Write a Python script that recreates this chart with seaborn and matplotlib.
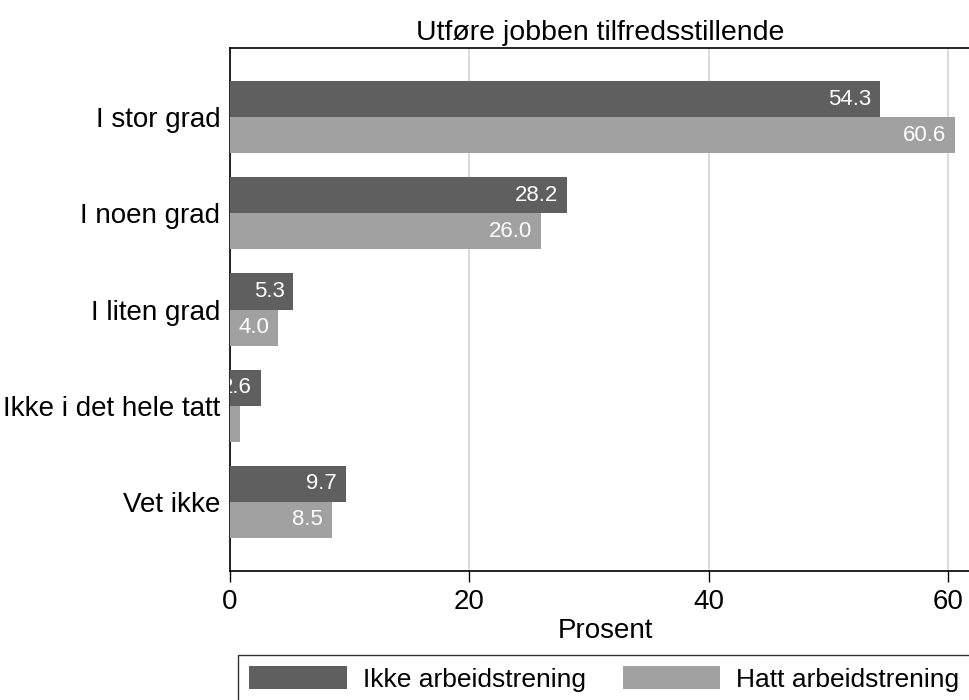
import pandas as pd
import numpy as np
import matplotlib.pyplot as plt
import seaborn as sns
from matplotlib.patches import Patch

# Data
categories = ["I stor grad", "I noen grad", "I liten grad", "Ikke i det hele tatt", "Vet ikke"]
groups = ["Ikke arbeidstrening", "Hatt arbeidstrening"]
ikke_vals = [54.3, 28.2, 5.3, 2.6, 9.7]
hatt_vals = [60.6, 26.0, 4.0, 0.8, 8.5]
colors = ["#5f5f5f", "#a1a1a1"]

df = pd.DataFrame({
    "kategori": categories * 2,
    "gruppe": [groups[0]] * 5 + [groups[1]] * 5,
    "prosent": ikke_vals + hatt_vals,
})

sns.set_style("white")
plt.rcParams["font.family"] = ["Liberation Sans", "DejaVu Sans"]
plt.rcParams["text.color"] = "black"
plt.rcParams["axes.labelcolor"] = "black"
plt.rcParams["xtick.color"] = "black"
plt.rcParams["ytick.color"] = "black"

fig = plt.figure(figsize=(9.69, 7), dpi=100)
# axes: x=0 at 230px, 60 at 948px, extends past right edge
ax = fig.add_axes([230 / 969, 1 - 571 / 700, 750 / 969, (571 - 48) / 700])

sns.barplot(data=df, y="kategori", x="prosent", hue="gruppe", order=categories,
            hue_order=groups, palette=colors, width=0.75, saturation=1,
            orient="h", ax=ax, legend=False, zorder=3)

for p in ax.patches:
    p.set_edgecolor("none")

# Value labels inside bar ends (clipped at the axis like the original)
for cont in ax.containers:
    for bar in cont:
        w = bar.get_width()
        ax.text(w - 0.75, bar.get_y() + bar.get_height() / 2, f"{w:.1f}",
                ha="right", va="center", color="white", fontsize=16,
                clip_on=True, zorder=4)

ax.set_xlim(0, 750 / 11.967)
ax.set_ylim(4.72, -0.72)
ax.set_xticks([0, 20, 40, 60])
ax.xaxis.grid(True, color="#dcdcdc", linewidth=1.5, zorder=0)
ax.yaxis.grid(False)
ax.tick_params(axis="x", direction="out", length=8, width=1, color="black",
               labelsize=20, pad=5, bottom=True)
ax.tick_params(axis="y", length=0, labelsize=20, pad=7)
ax.set_xlabel("Prosent", fontsize=20, labelpad=2)
ax.set_ylabel("")
ax.set_title("Utføre jobben tilfredsstillende", fontsize=20.5, pad=6, x=(600 - 230) / 750)

for side in ["left", "top", "bottom"]:
    ax.spines[side].set_color("black")
    ax.spines[side].set_linewidth(1.2)
ax.spines["right"].set_visible(False)

# Legend below
handles = [Patch(facecolor=c, edgecolor="none") for c in colors]
leg = fig.legend(handles, groups, loc="upper left", bbox_to_anchor=(238 / 969, 1 - 655 / 700),
                 ncol=2, fontsize=19, frameon=True, fancybox=False, edgecolor="black",
                 handlelength=3.7, handleheight=0.98, columnspacing=1.4, handletextpad=0.6,
                 borderpad=0.42, borderaxespad=0)
leg.get_frame().set_linewidth(1.0)

fig.savefig("out.png", dpi=100)
